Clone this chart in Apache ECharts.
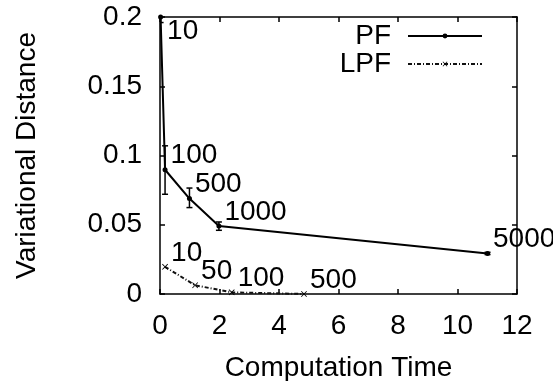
<!DOCTYPE html>
<html>
<head>
<meta charset="utf-8">
<script src="https://cdn.jsdelivr.net/npm/echarts@6/dist/echarts.min.js"></script>
<style>
html,body{margin:0;padding:0;background:#fff;}
#chart{width:553px;height:381px;}
</style>
</head>
<body>
<div id="chart"></div>
<script>
// ---- data ----
const pfTime   = [0.02, 0.17, 0.99, 1.98, 11.01];
const pfDist   = [0.200, 0.0897, 0.0689, 0.0491, 0.0293];
const pfLow    = [0.196, 0.072, 0.0624, 0.046, 0.0285];
const pfHigh   = [0.204, 0.107, 0.0765, 0.052, 0.0301];
const pfLabels = ['10', '100', '500', '1000', '5000'];

const lpfTime   = [0.17, 1.18, 2.41, 4.84];
const lpfDist   = [0.0196, 0.0063, 0.0012, 0.0];
const lpfLabels = ['10', '50', '100', '500'];

const xTicks = [0, 2, 4, 6, 8, 10, 12];
const yTicks = [0, 0.05, 0.1, 0.15, 0.2];

const FONT = '"Liberation Sans", Arial, sans-serif';
const FS = 28;
const chart = echarts.init(document.getElementById('chart'));

const labelBase = {show: true, position: 'right', distance: 3, offset: [0, -14],
  fontFamily: FONT, fontSize: FS, color: '#000'};

const pfData = pfTime.map((t, i) => {
  const item = {value: [t, pfDist[i]], name: pfLabels[i]};
  if (i === 0) item.label = {offset: [1, 14]};
  return item;
});
const lpfData = lpfTime.map((t, i) => ({value: [t, lpfDist[i]], name: lpfLabels[i]}));
const errData = pfTime.map((t, i) => [t, pfLow[i], pfHigh[i]]);

const xMin = xTicks[0], xMax = xTicks[xTicks.length - 1];
const yMin = yTicks[0], yMax = yTicks[yTicks.length - 1];
const axisLineStyle = {color: '#000', width: 1.5};

function xAxisCfg(pos, showLabel) {
  return {type: 'value', position: pos, min: xMin, max: xMax, interval: xTicks[1] - xTicks[0],
    axisLine: {show: true, onZero: false, lineStyle: axisLineStyle},
    axisTick: {show: true, inside: true, length: 5, lineStyle: axisLineStyle},
    axisLabel: {show: showLabel, margin: 18, fontFamily: FONT, fontSize: FS, color: '#000'},
    splitLine: {show: false},
    name: showLabel ? 'Computation Time' : '', nameLocation: 'middle', nameGap: 60,
    nameTextStyle: {fontFamily: FONT, fontSize: FS, color: '#000'}};
}
function yAxisCfg(pos, showLabel) {
  return {type: 'value', position: pos, min: yMin, max: yMax, interval: yTicks[1] - yTicks[0],
    axisLine: {show: true, onZero: false, lineStyle: axisLineStyle},
    axisTick: {show: true, inside: true, length: 5, lineStyle: axisLineStyle},
    axisLabel: {show: showLabel, margin: 18, fontFamily: FONT, fontSize: FS, color: '#000'},
    splitLine: {show: false},
    name: showLabel ? 'Variational Distance' : '', nameLocation: 'middle', nameGap: 119,
    nameTextStyle: {fontFamily: FONT, fontSize: FS, color: '#000'}};
}

const xShape = 'path://M0,1 L1,0 L5,4 L9,0 L10,1 L6,5 L10,9 L9,10 L5,6 L1,10 L0,9 L4,5 Z';

chart.setOption({
  animation: false,
  backgroundColor: '#fff',
  grid: {left: 160, right: 36, top: 17, bottom: 87, containLabel: false, outerBoundsMode: 'none'},
  xAxis: [xAxisCfg('bottom', true), xAxisCfg('top', false)],
  yAxis: [yAxisCfg('left', true), yAxisCfg('right', false)],
  legend: {
    orient: 'vertical', right: 70, top: 22, itemGap: 0, padding: 0,
    align: 'right', itemWidth: 74, itemHeight: 6,
    textStyle: {fontFamily: FONT, fontSize: FS, color: '#000', padding: [0, 12, 0, 0]},
    data: ['PF', 'LPF']
  },
  series: [
    {
      name: 'PF', type: 'line', data: pfData, clip: false,
      symbol: 'circle', symbolSize: 5,
      lineStyle: {color: '#000', width: 2},
      itemStyle: {color: '#000'},
      label: Object.assign({formatter: p => p.name}, labelBase),
      z: 3
    },
    {
      name: 'PF-err', type: 'custom', data: errData, clip: true,
      xAxisIndex: 0, yAxisIndex: 0,
      renderItem: function (params, api) {
        const x = api.value(0);
        const lo = api.coord([x, api.value(1)]);
        const hi = api.coord([x, api.value(2)]);
        const w = 3;
        const st = {stroke: '#000', lineWidth: 1.5};
        return {type: 'group', children: [
          {type: 'line', shape: {x1: lo[0], y1: lo[1], x2: hi[0], y2: hi[1]}, style: st},
          {type: 'line', shape: {x1: lo[0] - w, y1: lo[1], x2: lo[0] + w, y2: lo[1]}, style: st},
          {type: 'line', shape: {x1: hi[0] - w, y1: hi[1], x2: hi[0] + w, y2: hi[1]}, style: st}
        ]};
      },
      z: 4
    },
    {
      name: 'LPF', type: 'line', data: lpfData, clip: false,
      symbol: xShape, symbolSize: 6,
      lineStyle: {color: '#111', width: 2, type: [4, 2, 1, 2]},
      itemStyle: {color: '#000'},
      label: Object.assign({formatter: p => p.name}, labelBase),
      z: 3
    }
  ]
});
</script>
</body>
</html>
